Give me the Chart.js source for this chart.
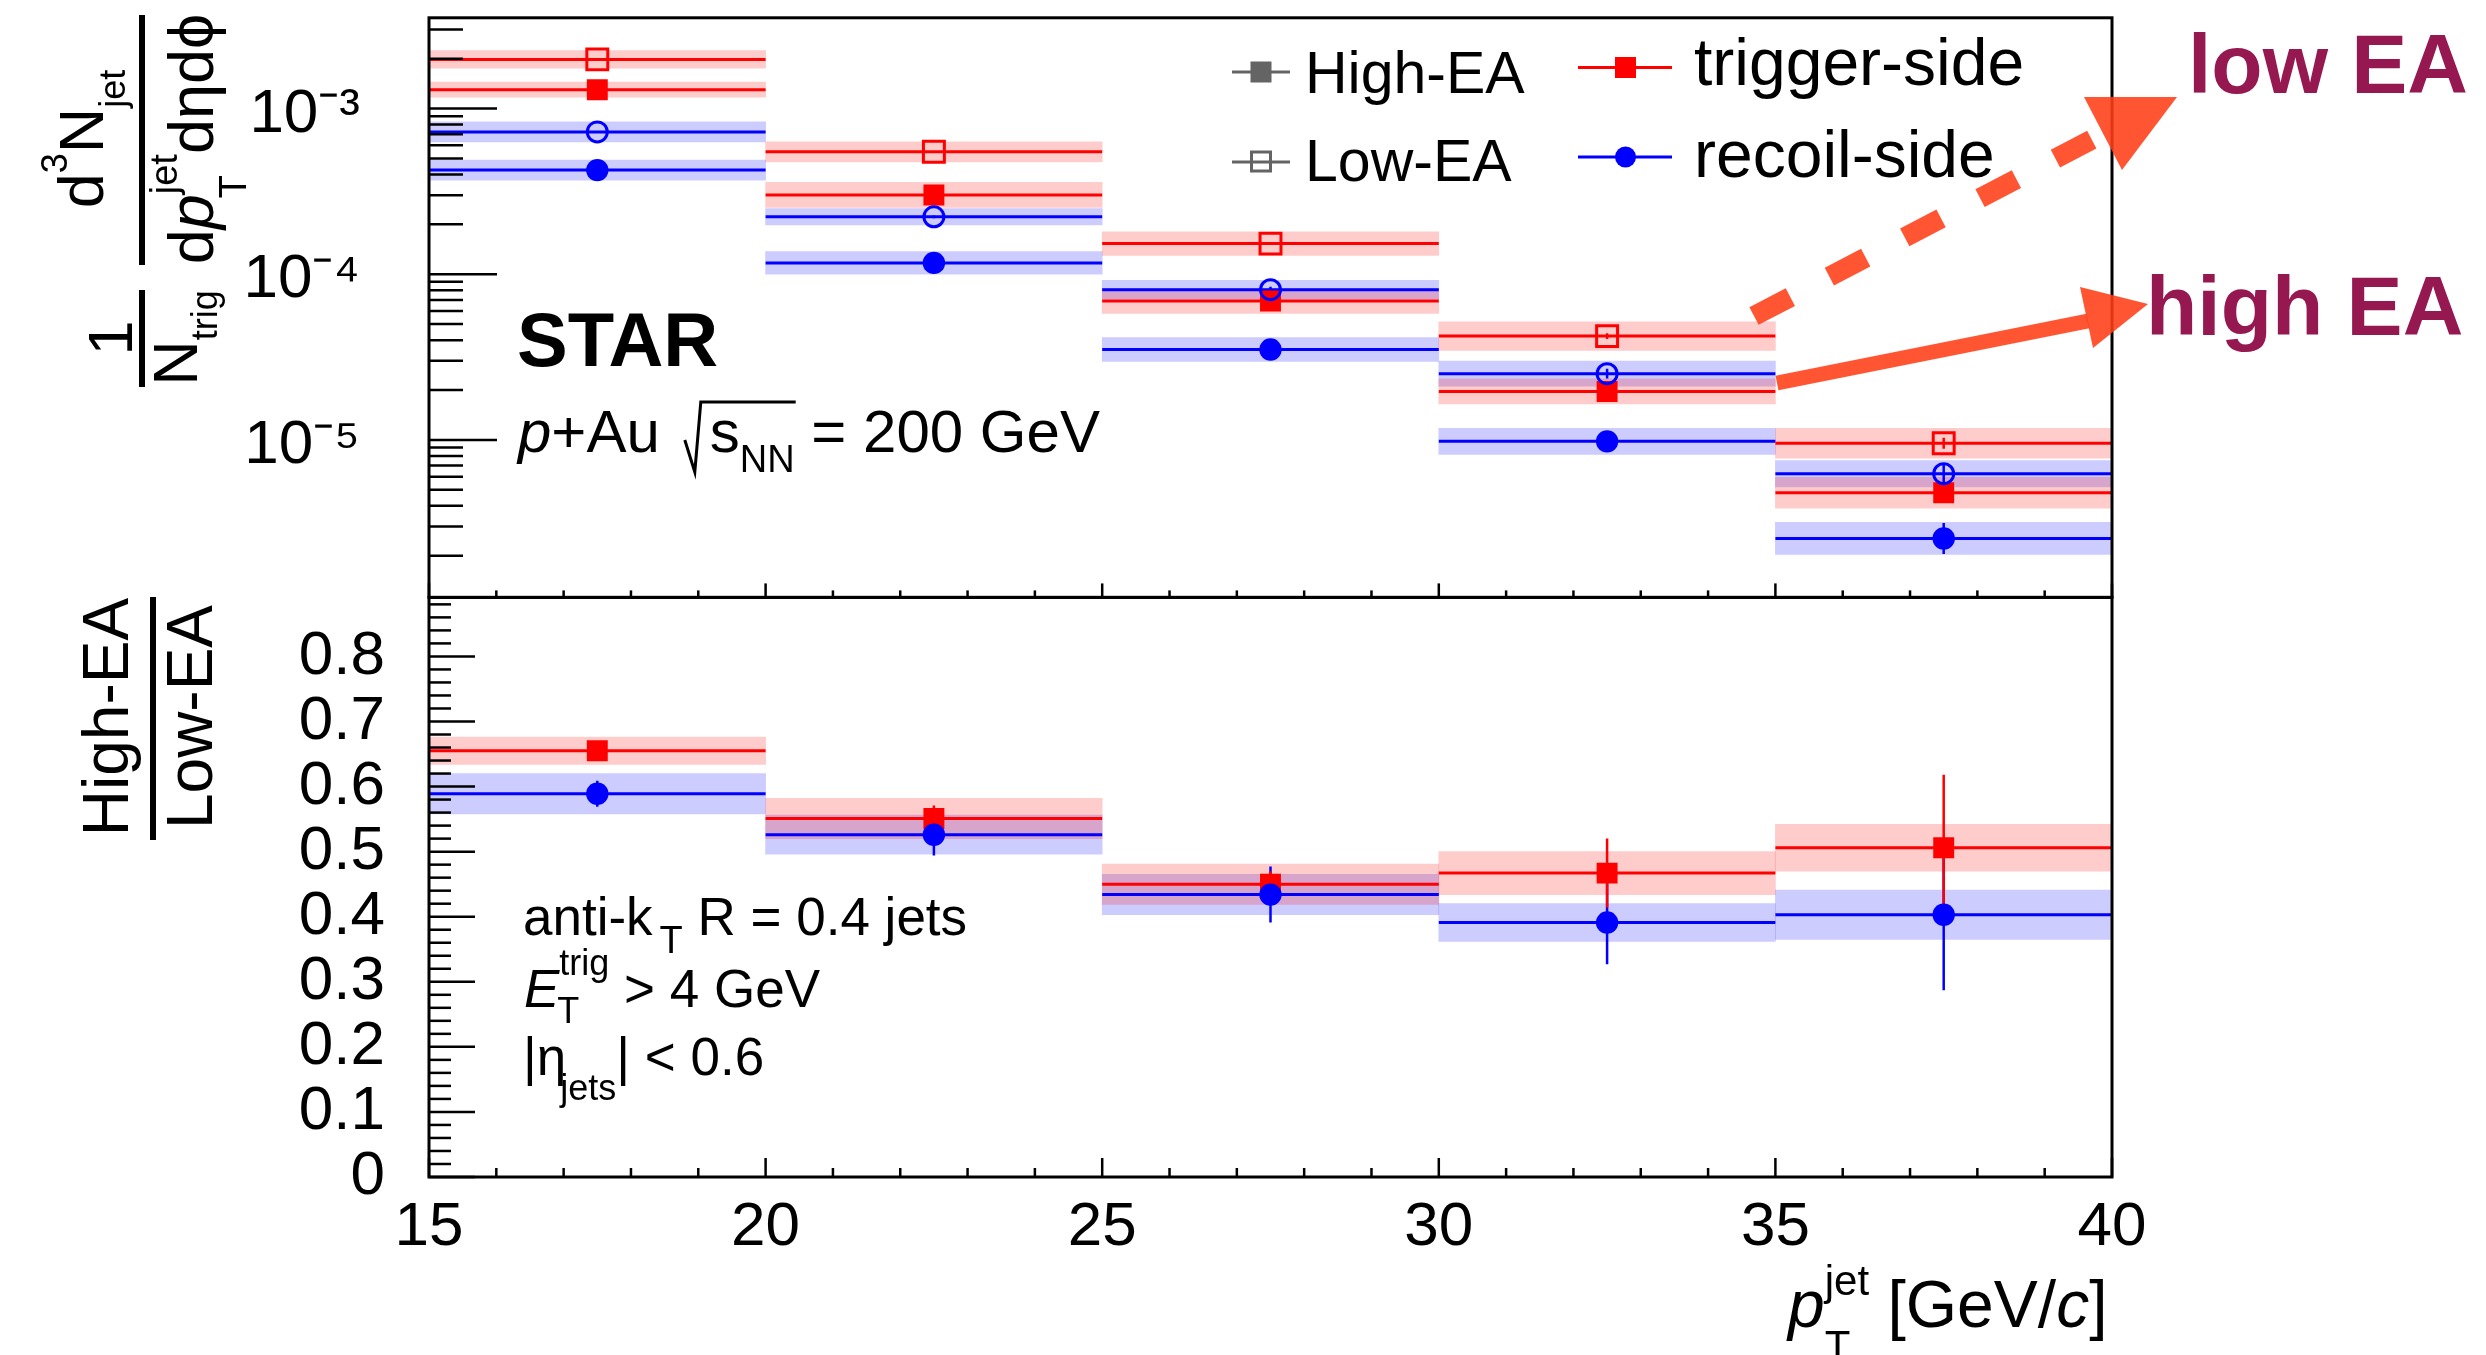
<!doctype html>
<html>
<head>
<meta charset="utf-8">
<title>STAR p+Au semi-inclusive jet spectra</title>
<script src="https://cdn.jsdelivr.net/npm/chart.js"></script>
<style>
  body { margin: 0; background: white; }
  #wrap { position: relative; width: 2486px; height: 1355px; }
</style>
</head>
<body>
<div id="wrap"><canvas id="chart"></canvas></div>
<script>
// pT^jet binning (GeV/c)
const binEdges = [15, 20, 25, 30, 35, 40];
const binCenters = [17.5, 22.5, 27.5, 32.5, 37.5];

// upper panel: per-trigger jet yields
const trigHighEA = [1.30e-3, 3.01e-4, 6.89e-5, 1.96e-5, 4.8e-6];
const trigLowEA = [1.98e-3, 5.48e-4, 1.53e-4, 4.23e-5, 9.55e-6];
const recoilHighEA = [4.25e-4, 1.17e-4, 3.51e-5, 9.8e-6, 2.54e-6];
const recoilLowEA = [7.23e-4, 2.22e-4, 8.07e-5, 2.51e-5, 6.25e-6];
// relative systematic (band) and statistical (bar) uncertainties
const trigHighSys = [0.11, 0.19, 0.19, 0.19, 0.24];
const trigLowSys = [0.13, 0.15, 0.18, 0.22, 0.23];
const recoilHighSys = [0.15, 0.17, 0.18, 0.20, 0.25];
const recoilLowSys = [0.15, 0.12, 0.14, 0.19, 0.20];
const trigHighStat = [0.01, 0.02, 0.04, 0.07, 0.12];
const trigLowStat = [0.01, 0.01, 0.02, 0.04, 0.08];
const recoilHighStat = [0.02, 0.03, 0.06, 0.11, 0.24];
const recoilLowStat = [0.01, 0.02, 0.04, 0.07, 0.15];

// lower panel: High-EA / Low-EA
const ratioTrig = [0.655, 0.551, 0.450, 0.467, 0.506];
const ratioTrigSys = [0.021, 0.031, 0.031, 0.033, 0.036];
const ratioTrigStat = [0.010, 0.020, 0.020, 0.053, 0.112];
const ratioRecoil = [0.589, 0.526, 0.434, 0.391, 0.403];
const ratioRecoilSys = [0.031, 0.030, 0.031, 0.029, 0.038];
const ratioRecoilStat = [0.020, 0.032, 0.043, 0.064, 0.116];

// axes
const xTickValues = [15, 20, 25, 30, 35, 40];
const xTickLabels = ['15', '20', '25', '30', '35', '40'];
const logTickValues = [1e-5, 1e-4, 1e-3];
const logTickLabels = ['10\u207B\u2075', '10\u207B\u2074', '10\u207B\u00B3'];
const ratioTickValues = [0, 0.1, 0.2, 0.3, 0.4, 0.5, 0.6, 0.7, 0.8];
const ratioTickLabels = ['0', '0.1', '0.2', '0.3', '0.4', '0.5', '0.6', '0.7', '0.8'];

const FONT = '"Liberation Sans", Arial, Helvetica, sans-serif';
const RED = 'rgb(255,0,0)';
const BLUE = 'rgb(0,0,255)';
const RED_BAND = 'rgba(255,0,0,0.2)';
const BLUE_BAND = 'rgba(0,0,255,0.2)';
const GRAY = 'rgb(100,100,100)';
const ARROW = 'rgba(255,62,22,0.88)';
const NOTE = '#961850';

Chart.defaults.font.family = FONT;
Chart.defaults.color = '#000';

function steps(vals) {
  const pts = [];
  vals.forEach((v, i) => {
    pts.push({ x: binEdges[i], y: v }, { x: binEdges[i + 1], y: v }, { x: binEdges[i + 1], y: null });
  });
  return pts;
}

function band(vals, err, color, axis, rel) {
  return {
    type: 'bar', yAxisID: axis, order: 10, grouped: false,
    barPercentage: 1, categoryPercentage: 1, borderWidth: 0, backgroundColor: color,
    data: vals.map((v, i) => ({
      x: binCenters[i],
      y: rel ? [v / (1 + err[i]), v * (1 + err[i])] : [v - err[i], v + err[i]]
    }))
  };
}

function errBar(vals, err, color, axis, rel) {
  return {
    type: 'bar', yAxisID: axis, order: 4, grouped: false, maxBarThickness: 2.5,
    borderWidth: 0, backgroundColor: color,
    data: vals.map((v, i) => ({
      x: binCenters[i],
      y: rel ? [v / (1 + err[i]), v * (1 + err[i])] : [v - err[i], v + err[i]]
    }))
  };
}

function hline(vals, color, axis) {
  return {
    type: 'line', yAxisID: axis, order: 5, data: steps(vals),
    borderColor: color, borderWidth: 3, pointRadius: 0, spanGaps: false, fill: false
  };
}

function markers(vals, color, style, open, axis, order) {
  return {
    type: 'scatter', yAxisID: axis, order: order,
    data: vals.map((v, i) => ({ x: binCenters[i], y: v })),
    pointStyle: style,
    pointRadius: style === 'rect' ? 14.8 : (open ? 10 : 11.2),
    pointBackgroundColor: open ? 'rgba(0,0,0,0)' : color,
    pointBorderColor: color,
    pointBorderWidth: open ? 3 : 0
  };
}

const datasets = [
  band(trigLowEA, trigLowSys, RED_BAND, 'y', true),
  band(trigHighEA, trigHighSys, RED_BAND, 'y', true),
  band(recoilLowEA, recoilLowSys, BLUE_BAND, 'y', true),
  band(recoilHighEA, recoilHighSys, BLUE_BAND, 'y', true),
  hline(trigLowEA, RED, 'y'),
  hline(trigHighEA, RED, 'y'),
  hline(recoilLowEA, BLUE, 'y'),
  hline(recoilHighEA, BLUE, 'y'),
  errBar(trigLowEA, trigLowStat, RED, 'y', true),
  errBar(trigHighEA, trigHighStat, RED, 'y', true),
  errBar(recoilLowEA, recoilLowStat, BLUE, 'y', true),
  errBar(recoilHighEA, recoilHighStat, BLUE, 'y', true),
  markers(trigLowEA, RED, 'rect', true, 'y', 2),
  markers(trigHighEA, RED, 'rect', false, 'y', 2),
  markers(recoilLowEA, BLUE, 'circle', true, 'y', 1),
  markers(recoilHighEA, BLUE, 'circle', false, 'y', 1),

  band(ratioTrig, ratioTrigSys, RED_BAND, 'y2', false),
  band(ratioRecoil, ratioRecoilSys, BLUE_BAND, 'y2', false),
  hline(ratioTrig, RED, 'y2'),
  hline(ratioRecoil, BLUE, 'y2'),
  errBar(ratioTrig, ratioTrigStat, RED, 'y2', false),
  errBar(ratioRecoil, ratioRecoilStat, BLUE, 'y2', false),
  markers(ratioTrig, RED, 'rect', false, 'y2', 2),
  markers(ratioRecoil, BLUE, 'circle', false, 'y2', 1)
];

// rich text: runs of {t, s, dy, dx, it, b} or {sup, sub, s, up, down}
function fontOf(r) {
  return (r.it ? 'italic ' : '') + (r.b ? 'bold ' : '') + r.s + 'px ' + FONT;
}
function runsWidth(ctx, runs) {
  let w = 0;
  for (const r of runs) {
    ctx.font = fontOf(r);
    if (r.sup !== undefined) {
      w += Math.max(ctx.measureText(r.sup).width, ctx.measureText(r.sub).width + (r.subDx || 0));
    } else {
      w += ctx.measureText(r.t).width + (r.dx || 0);
    }
  }
  return w;
}
function drawRuns(ctx, runs, x, y, align, rot) {
  ctx.save();
  ctx.translate(x, y);
  if (rot) ctx.rotate(rot);
  ctx.textAlign = 'left';
  ctx.textBaseline = 'alphabetic';
  const w = runsWidth(ctx, runs);
  let cx = align === 'center' ? -w / 2 : (align === 'right' ? -w : 0);
  for (const r of runs) {
    ctx.font = fontOf(r);
    if (r.sup !== undefined) {
      ctx.fillText(r.sup, cx, -r.up);
      ctx.fillText(r.sub, cx + (r.subDx || 0), r.down);
      cx += Math.max(ctx.measureText(r.sup).width, ctx.measureText(r.sub).width + (r.subDx || 0));
    } else {
      cx += r.dx || 0;
      ctx.fillText(r.t, cx, r.dy || 0);
      cx += ctx.measureText(r.t).width;
    }
  }
  ctx.restore();
  return x + cx;
}

function seg(ctx, x1, y1, x2, y2) {
  ctx.beginPath();
  ctx.moveTo(x1, y1);
  ctx.lineTo(x2, y2);
  ctx.stroke();
}

const decorations = {
  id: 'decorations',
  afterDatasetsDraw(chart) {
    const { ctx, chartArea: ca, scales: { x, y, y2 } } = chart;
    ctx.save();
    ctx.strokeStyle = '#000';
    ctx.lineWidth = 2.5;
    // log axis ticks, inside the frame
    for (let e = -7; e <= -2; e++) {
      for (let m = 1; m <= 9; m++) {
        const v = m * Math.pow(10, e);
        if (v < y.min || v > y.max) continue;
        const p = y.getPixelForValue(v);
        seg(ctx, ca.left, p, ca.left + (m === 1 ? 68 : 34), p);
      }
    }
    // ratio axis ticks
    for (let k = 0; k * 0.02 <= y2.max; k++) {
      const p = y2.getPixelForValue(k * 0.02);
      seg(ctx, ca.left, p, ca.left + (k % 5 === 0 ? 46 : 22), p);
    }
    // x ticks on both panels
    for (let v = binEdges[0]; v <= binEdges[binEdges.length - 1]; v++) {
      const p = x.getPixelForValue(v);
      const major = v % 5 === 0;
      seg(ctx, p, y.bottom, p, y.bottom - (major ? 14 : 7));
      seg(ctx, p, y2.bottom, p, y2.bottom - (major ? 19 : 9));
    }
    ctx.lineWidth = 3;
    ctx.strokeRect(ca.left, y.top, ca.right - ca.left, y.bottom - y.top);
    ctx.strokeRect(ca.left, y2.top, ca.right - ca.left, y2.bottom - y2.top);
    ctx.restore();
  },
  afterDraw(chart) {
    const { ctx } = chart;
    ctx.save();
    ctx.fillStyle = '#000';

    // y titles (rotated fractions)
    const up = -Math.PI / 2;
    drawRuns(ctx, [{ t: '1', s: 63 }], 132, 338, 'center', up);
    drawRuns(ctx, [{ t: 'N', s: 63 }, { t: 'trig', s: 36, dy: 20 }], 197, 338, 'center', up);
    ctx.fillRect(139, 290, 6, 97);
    drawRuns(ctx, [{ t: 'd', s: 63 }, { t: '3', s: 36, dy: -36 }, { t: 'N', s: 63 }, { t: 'jet', s: 36, dy: 22 }],
      103, 139, 'center', up);
    drawRuns(ctx, [{ t: 'd', s: 63 }, { t: 'p', s: 63, it: true },
      { sup: 'jet', sub: 'T', s: 38, up: 36, down: 33, subDx: -4 }, { t: 'd\u03B7d\u03D5', s: 63 }],
      213, 139, 'center', up);
    ctx.fillRect(139, 15, 6, 250);

    drawRuns(ctx, [{ t: 'High-EA', s: 64 }], 128, 717, 'center', up);
    drawRuns(ctx, [{ t: 'Low-EA', s: 64 }], 212, 717, 'center', up);
    ctx.fillRect(150, 597, 6, 243);

    // x title
    drawRuns(ctx, [{ t: 'p', s: 66, it: true }, { sup: 'jet', sub: 'T', s: 42, up: 32, down: 33 },
      { t: ' [GeV/', s: 66 }, { t: 'c', s: 66, it: true }, { t: ']', s: 66 }], 1788, 1327, 'left');

    // labels inside upper panel
    drawRuns(ctx, [{ t: 'STAR', s: 76, b: true }], 517, 366, 'left');
    const e1 = drawRuns(ctx, [{ t: 'p', s: 60, it: true }, { t: '+Au', s: 60 }], 518, 452, 'left');
    const e2 = drawRuns(ctx, [{ t: 's', s: 60 }, { t: 'NN', s: 38, dy: 20 }], e1 + 50, 452, 'left');
    ctx.strokeStyle = '#000';
    ctx.lineWidth = 3;
    ctx.beginPath();
    ctx.moveTo(e1 + 25, 440);
    ctx.lineTo(e1 + 35, 472);
    ctx.lineTo(e1 + 41, 402);
    ctx.lineTo(e2 + 1, 402);
    ctx.stroke();
    drawRuns(ctx, [{ t: ' = 200 GeV', s: 60 }], e2, 452, 'left');

    // labels inside lower panel
    drawRuns(ctx, [{ t: 'anti-k', s: 53 }, { t: 'T', s: 38, dy: 18, dx: 7 }, { t: ' R = 0.4 jets', s: 53 }], 523, 935, 'left');
    drawRuns(ctx, [{ t: 'E', s: 53, it: true }, { sup: 'trig', sub: 'T', s: 36, up: 32, down: 16, subDx: -2 },
      { t: ' > 4 GeV', s: 53 }], 524, 1007, 'left');
    drawRuns(ctx, [{ t: '|\u03B7', s: 53 }, { t: 'jets', s: 36, dy: 25, dx: -6 }, { t: '| < 0.6', s: 53 }], 523, 1075, 'left');

    // legend
    ctx.lineWidth = 3;
    ctx.strokeStyle = GRAY;
    ctx.fillStyle = GRAY;
    seg(ctx, 1232, 72, 1290, 72);
    ctx.fillRect(1250.5, 61.5, 21, 21);
    seg(ctx, 1232, 162, 1290, 162);
    ctx.strokeRect(1251.5, 152, 19, 19);
    ctx.fillStyle = '#000';
    drawRuns(ctx, [{ t: 'High-EA', s: 59 }], 1305, 92.5, 'left');
    drawRuns(ctx, [{ t: 'Low-EA', s: 59 }], 1305, 180.5, 'left');

    ctx.strokeStyle = RED;
    ctx.fillStyle = RED;
    seg(ctx, 1578, 67.5, 1672, 67.5);
    ctx.fillRect(1615, 57, 21, 21);
    ctx.strokeStyle = BLUE;
    ctx.fillStyle = BLUE;
    seg(ctx, 1578, 157, 1672, 157);
    ctx.beginPath();
    ctx.arc(1625.5, 157, 10.5, 0, Math.PI * 2);
    ctx.fill();
    ctx.fillStyle = '#000';
    drawRuns(ctx, [{ t: 'trigger-side', s: 66 }], 1694, 85, 'left');
    drawRuns(ctx, [{ t: 'recoil-side', s: 66 }], 1694, 177, 'left');

    // annotation arrows
    ctx.strokeStyle = ARROW;
    ctx.fillStyle = ARROW;
    ctx.lineWidth = 20;
    ctx.lineCap = 'butt';
    ctx.setLineDash([41, 44]);
    seg(ctx, 1754, 316, 2097, 137);
    ctx.setLineDash([]);
    ctx.beginPath();
    ctx.moveTo(2084, 97);
    ctx.lineTo(2177, 97);
    ctx.lineTo(2122, 170);
    ctx.closePath();
    ctx.fill();

    ctx.lineWidth = 15;
    seg(ctx, 1777, 383, 2088, 321);
    ctx.beginPath();
    ctx.moveTo(2080, 287);
    ctx.lineTo(2148, 304);
    ctx.lineTo(2093, 348);
    ctx.closePath();
    ctx.fill();

    ctx.fillStyle = NOTE;
    drawRuns(ctx, [{ t: 'low EA', s: 84, b: true }], 2188, 93, 'left');
    drawRuns(ctx, [{ t: 'high EA', s: 84, b: true }], 2146, 335, 'left');
    ctx.restore();
  }
};

new Chart(document.getElementById('chart'), {
  type: 'scatter',
  data: { datasets: datasets },
  plugins: [decorations],
  options: {
    responsive: true,
    maintainAspectRatio: false,
    devicePixelRatio: 1,
    animation: false,
    events: [],
    layout: { padding: { top: 14, left: 0, right: 374, bottom: 0 } },
    plugins: { legend: { display: false }, tooltip: { enabled: false } },
    scales: {
      x: {
        type: 'linear', position: 'bottom', min: 15, max: 40, offset: false,
        afterBuildTicks: s => { s.ticks = xTickValues.map(v => ({ value: v })); },
        afterFit: s => { s.height = 178; s.paddingLeft = 0; s.paddingRight = 0; },
        ticks: { callback: (v, i) => xTickLabels[i], font: { size: 62 }, padding: 14, maxRotation: 0, autoSkip: false },
        grid: { drawOnChartArea: false, drawTicks: false, offset: false },
        border: { display: false }
      },
      // listed before the log axis so that it is stacked underneath it
      y2: {
        type: 'linear', position: 'left', stack: 'panels', stackWeight: 1,
        min: 0, max: 0.8907,
        afterBuildTicks: s => { s.ticks = ratioTickValues.map(v => ({ value: v })); },
        afterFit: s => { s.width = 429; s.paddingTop = 0; s.paddingBottom = 0; },
        ticks: { callback: (v, i) => ratioTickLabels[i], font: { size: 62 }, padding: 44, autoSkip: false },
        grid: { drawOnChartArea: false, drawTicks: false },
        border: { display: false }
      },
      y: {
        type: 'logarithmic', position: 'left', stack: 'panels', stackWeight: 1,
        min: 1.12e-6, max: 3.53e-3,
        afterBuildTicks: s => { s.ticks = logTickValues.map(v => ({ value: v })); },
        afterFit: s => { s.width = 429; s.paddingTop = 0; s.paddingBottom = 0; },
        ticks: { callback: (v, i) => logTickLabels[i], font: { size: 62 }, padding: 69, labelOffset: 6, autoSkip: false },
        grid: { drawOnChartArea: false, drawTicks: false },
        border: { display: false }
      }
    }
  }
});
</script>
</body>
</html>
